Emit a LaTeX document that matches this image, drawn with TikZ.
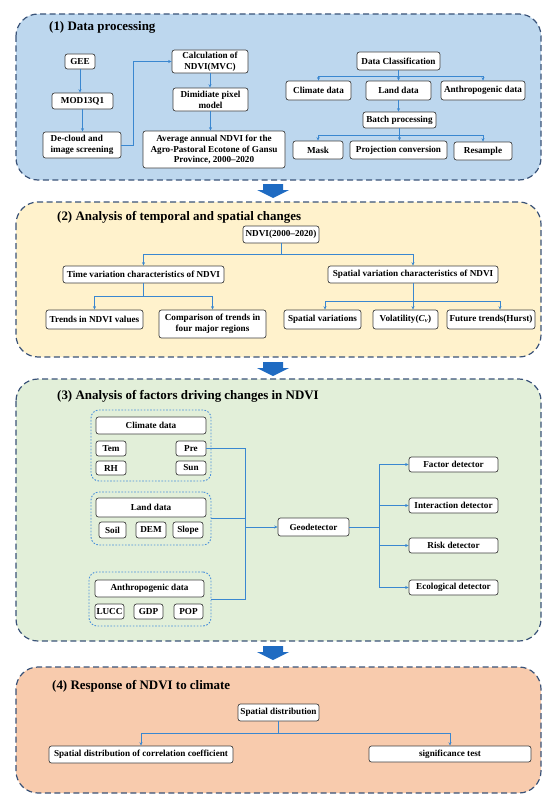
\documentclass[tikz,border=0pt]{standalone}
\usepackage{fontspec}
\setmainfont{Liberation Serif}
\usetikzlibrary{arrows.meta}
\definecolor{pone}{HTML}{BDD7EE}
\definecolor{ptwo}{HTML}{FFF2CC}
\definecolor{pthree}{HTML}{E2EFD9}
\definecolor{pfour}{HTML}{F8CBAD}
\definecolor{panc}{HTML}{3A5378}
\definecolor{conc}{HTML}{3A87D0}
\definecolor{blkc}{HTML}{1F6BC2}
\definecolor{boxc}{HTML}{404040}
\definecolor{grpc}{HTML}{4A90D9}
\begin{document}
\begin{tikzpicture}[x=1bp,y=-1bp,
  bx/.style={draw=boxc, fill=white, rounded corners=2.5bp, line width=0.7bp,
    font=\bfseries\fontsize{9.2}{11}\selectfont, inner sep=0.5bp, align=center},
  grp/.style={draw=grpc, dash pattern=on 1.6bp off 1.6bp, line width=0.9bp,
    rounded corners=8bp, inner sep=0pt},
  panel/.style={draw=panc, line width=1.2bp, dash pattern=on 6bp off 3.5bp, rounded corners=22bp},
  ttl/.style={anchor=west, font=\bfseries\fontsize{13}{15}\selectfont, inner sep=0pt},
  con/.style={draw=conc, line width=0.8bp},
  arr/.style={con, -{Stealth[length=3.5bp,width=3bp]}},
  blkarr/.pic={\fill[blkc] (-10,0) -- (10,0) -- (10,6) -- (16,6) -- (0,14) -- (-16,6) -- (-10,6) -- cycle;}
]
\useasboundingbox (0,0) rectangle (550,801);

% ---------- panels ----------
\draw[panel, fill=pone] (16,14) rectangle (541,180);
\draw[panel, fill=ptwo] (16,202) rectangle (541,357);
\draw[panel, fill=pthree] (16,379) rectangle (541,641);
\draw[panel, fill=pfour] (16,667) rectangle (541,793);

\pic at (273,184) {blkarr};
\pic at (273,362) {blkarr};
\pic at (273,646) {blkarr};

% ---------- (1) ----------
\node[ttl] (t1) at (49,27) {(1) Data processing};
\node[bx, minimum width=30bp, minimum height=15bp] (gee) at (80,61.5) {GEE};
\node[bx, minimum width=61bp, minimum height=16bp] (mod) at (82.5,101) {MOD13Q1};
\node[bx, minimum width=78bp, minimum height=26bp, align=left] (dec) at (82,145) {De-cloud and\\image screening};
\node[bx, minimum width=76bp, minimum height=23bp] (calc) at (210,61.5) {Calculation of\\NDVI(MVC)};
\node[bx, minimum width=75bp, minimum height=23bp] (dim) at (210.5,99.5) {Dimidiate pixel\\model};
\node[bx, minimum width=142bp, minimum height=37bp] (avg) at (214,149.5) {Average annual NDVI for the\\Agro-Pastoral Ecotone of Gansu\\Province, 2000--2020};

\draw[arr] (gee.south) -- (gee.south |- mod.north);
\draw[arr] (mod.south) -- (mod.south |- dec.north);
\draw[arr] (dec.east) -- ++(12,0) |- (calc.west);
\draw[arr] (calc.south) -- (calc.south |- dim.north);
\draw[arr] (dim.south) -- (dim.south |- avg.north);

\node[bx, minimum width=83bp, minimum height=18bp] (dc) at (398.5,61) {Data Classification};
\node[bx, minimum width=65bp, minimum height=19bp] (clim) at (318.5,90.5) {Climate data};
\node[bx, minimum width=65bp, minimum height=19bp] (land) at (398.5,90.5) {Land data};
\node[bx, minimum width=84bp, minimum height=19bp] (anth) at (483,90.5) {Anthropogenic data};
\node[bx, minimum width=73bp, minimum height=16bp] (batch) at (399.5,120) {Batch processing};
\node[bx, minimum width=50bp, minimum height=18bp] (mask) at (318,150) {Mask};
\node[bx, minimum width=97bp, minimum height=18bp] (proj) at (398.5,150) {Projection conversion};
\node[bx, minimum width=58bp, minimum height=18bp] (resa) at (483,151) {Resample};

\draw[arr] (dc.south) -- ++(0,6) -| (clim.north);
\draw[arr] (dc.south) -- ++(0,6) -| (anth.north);
\draw[arr] (dc.south) -- (dc.south |- land.north);
\draw[arr] (land.south) -- (land.south |- batch.north);
\draw[arr] (batch.south) -- ++(0,7) -| (mask.north);
\draw[arr] (batch.south) -- ++(0,7) -| (resa.north);
\draw[arr] (batch.south) -- (batch.south |- proj.north);

% ---------- (2) ----------
\node[ttl] (t2) at (57,217) {(2) Analysis of temporal and spatial changes};
\node[bx, minimum width=76bp, minimum height=17bp] (ndvi) at (281,234.5) {NDVI(2000--2020)};
\node[bx, minimum width=161bp, minimum height=17bp] (tvc) at (143.5,274.5) {Time variation characteristics of NDVI};
\node[bx, minimum width=170bp, minimum height=17bp] (svc) at (413,274.5) {Spatial variation characteristics of NDVI};
\node[bx, minimum width=97bp, minimum height=19bp] (tr) at (94.5,319.5) {Trends in NDVI values};
\node[bx, minimum width=107bp, minimum height=28bp] (cmp) at (212.5,324) {Comparison of trends in\\four major regions};
\node[bx, minimum width=77bp, minimum height=19bp] (sv) at (322.5,319.5) {Spatial variations};
\node[bx, minimum width=65bp, minimum height=19bp] (vol) at (405.5,319.5) {Volatility(\textit{C}\textsubscript{\textit{v}})};
\node[bx, minimum width=88bp, minimum height=19bp] (fut) at (491,319.5) {Future trends(Hurst)};

\draw[arr] (ndvi.south) -- ++(0,11) -| (tvc.north);
\draw[arr] (ndvi.south) -- ++(0,11) -| (svc.north);
\draw[arr] (tvc.south) -- ++(0,13) -| (tr.north);
\draw[arr] (tvc.south) -- ++(0,13) -| (cmp.north);
\draw[arr] (svc.south) -- ++(0,18) -| ([xshift=2.5bp]sv.north);
\draw[arr] (svc.south) -- ++(0,18) -| ([xshift=9bp]fut.north);
\draw[arr] (svc.south) -- (svc.south |- vol.north);

% ---------- (3) ----------
\node[ttl] (t3) at (57,396) {(3) Analysis of factors driving changes in NDVI};
\node[grp, minimum width=120bp, minimum height=71bp] (climg) at (151,445.5) {};
\node[grp, minimum width=120bp, minimum height=53bp] (landg) at (151,518.5) {};
\node[grp, minimum width=122bp, minimum height=54bp] (anthg) at (150,599) {};

\node[bx, minimum width=110bp, minimum height=17bp] (cd) at (151,425.5) {Climate data};
\node[bx, minimum width=30bp, minimum height=15bp] (tem) at (111,448.5) {Tem};
\node[bx, minimum width=30bp, minimum height=15bp] (pre) at (191,448.5) {Pre};
\node[bx, minimum width=30bp, minimum height=14bp] (rh) at (111,468) {RH};
\node[bx, minimum width=30bp, minimum height=14bp] (sun) at (191,468) {Sun};

\node[bx, minimum width=110bp, minimum height=19bp] (ld) at (151,507.5) {Land data};
\node[bx, minimum width=27bp, minimum height=16bp] (soil) at (112.5,530) {Soil};
\node[bx, minimum width=30bp, minimum height=16bp] (dem) at (151,530) {DEM};
\node[bx, minimum width=30bp, minimum height=16bp] (slope) at (188,530) {Slope};

\node[bx, minimum width=109bp, minimum height=17bp] (ad) at (149.5,588.5) {Anthropogenic data};
\node[bx, minimum width=29bp, minimum height=15bp] (lucc) at (109.5,611.5) {LUCC};
\node[bx, minimum width=29bp, minimum height=15bp] (gdp) at (148.5,611.5) {GDP};
\node[bx, minimum width=29bp, minimum height=15bp] (pop) at (188.5,611.5) {POP};

\node[bx, minimum width=71bp, minimum height=18bp] (geo) at (313.5,527) {Geodetector};
\node[bx, minimum width=89bp, minimum height=15bp] (fd) at (453.5,464.5) {Factor detector};
\node[bx, minimum width=89bp, minimum height=15bp] (idt) at (453.5,505.5) {Interaction detector};
\node[bx, minimum width=89bp, minimum height=15bp] (rd) at (453.5,545.5) {Risk detector};
\node[bx, minimum width=89bp, minimum height=15bp] (ed) at (453.5,587.5) {Ecological detector};

\coordinate (jt) at (245,448.5);
\coordinate (jb) at (245,599);
\draw[con] (pre.east) -- (jt) -- (jb) -- (anthg.east);
\draw[con] (landg.east) -- (landg.east -| jt);
\draw[arr] (geo.west -| jt) -- (geo.west);

\coordinate (kt) at (379,464.5);
\coordinate (kb) at (379,587.5);
\draw[con] (geo.east) -- (geo.east -| kt);
\draw[con] (kt) -- (kb);
\draw[arr] (kt) -- (fd.west);
\draw[arr] (idt.west -| kt) -- (idt.west);
\draw[arr] (rd.west -| kt) -- (rd.west);
\draw[arr] (kb) -- (ed.west);

% ---------- (4) ----------
\node[ttl] (t4) at (52,686) {(4) Response of NDVI to climate};
\node[bx, minimum width=81bp, minimum height=17bp] (sd) at (278.5,712.5) {Spatial distribution};
\node[bx, minimum width=184bp, minimum height=17bp] (sdc) at (141,754.5) {Spatial distribution of correlation coefficient};
\node[bx, minimum width=162bp, minimum height=16bp] (sig) at (450,754) {significance test};
\draw[arr] (sd.south) -- ++(0,12) -| (sdc.north);
\draw[arr] (sd.south) -- ++(0,12) -| (sig.north);

\end{tikzpicture}
\end{document}
